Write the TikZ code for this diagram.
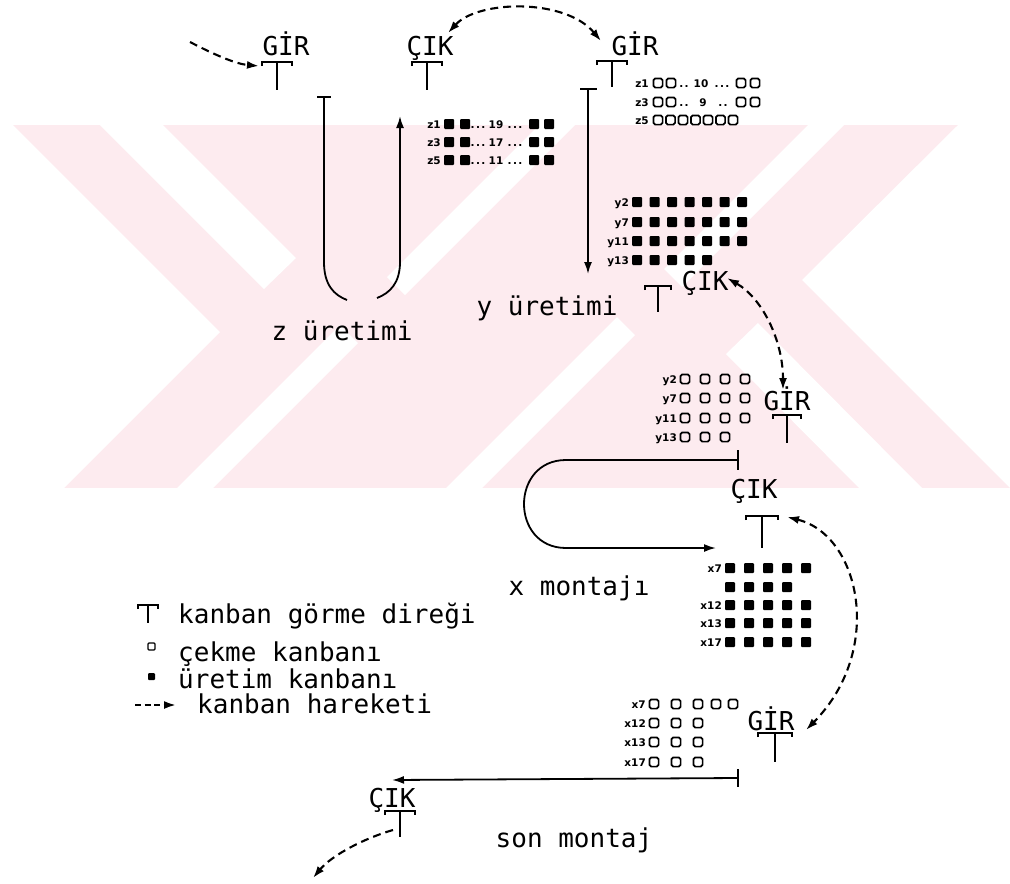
\documentclass[tikz,border=0pt]{standalone}
\usepackage{fontspec}
\usetikzlibrary{arrows.meta}
\newfontfamily\plotfont{DejaVu Sans Mono}
\newfontfamily\tagfamily{DejaVu Sans}
\definecolor{wmpink}{RGB}{253,235,239}

% kanban post: x, bar y, half width, stem length
\newcommand\kpost[4]{\draw[postline] (#1-#3,#2+4) -- (#1-#3,#2) -- (#1+#3,#2) -- (#1+#3,#2+4) (#1,#2) -- (#1,#2+#4);}
% production kanban (filled) and pull kanban (outline) at a centre
\newcommand\fsq[2]{\fill[kfill] (#1-5,#2-5) rectangle (#1+5,#2+5);}
\newcommand\osq[2]{\draw[kpull] (#1-4.6,#2-4.6) rectangle (#1+4.6,#2+4.6);}
\newcommand\ddd{.\hspace{1.4pt}.\hspace{1.4pt}.}
\newcommand\dd{.\hspace{1.4pt}.}

\begin{document}
\begin{tikzpicture}[x=1pt,y=-1pt,
  lbl/.style={font=\plotfont\fontsize{26}{26}\selectfont, inner sep=0pt, anchor=base},
  lblw/.style={lbl, anchor=base west},
  tag/.style={font=\tagfamily\bfseries\fontsize{10.5}{10.5}\selectfont, inner sep=0pt, anchor=base east},
  num/.style={font=\tagfamily\bfseries\fontsize{10.5}{10.5}\selectfont, inner sep=0pt, anchor=base},
  flow/.style={line width=1.8pt},
  postline/.style={line width=1.9pt},
  kfill/.style={fill=black, rounded corners=1pt},
  kpull/.style={draw=black, line width=1.7pt, rounded corners=1.8pt},
  move/.style={line width=2.1pt, dash pattern=on 8pt off 5pt},
  tip/.style={-{Latex[length=12pt,width=8pt]}},
  tips/.style={{Latex[length=12pt,width=8pt]}-{Latex[length=12pt,width=8pt]}},
]
\useasboundingbox (0,0) rectangle (1010,884);

% faint background emblem
\begin{scope}
  \clip (0,125) rectangle (1010,488);
  \fill[wmpink] (0,125) rectangle (1010,488);
  \fill[white] (0,125) -- (13,125) -- (220,332) -- (64,488) -- (0,488) -- cycle;
  \fill[white] (100,125) -- (163,125) -- (296,258) -- (264,289) -- cycle;
  \fill[white] (958,125) -- (1010,125) -- (1010,488) -- (802,280) -- cycle;
  \fill[white] (922,488) -- (859,488) -- (726,354) -- (758,323) -- cycle;
  \fill[white] (177,488) -- (213,488) -- (358,343) -- (340,325) -- cycle;
  \fill[white] (446,488) -- (482,488) -- (635,335) -- (617,317) -- cycle;
  \fill[white] (845,124) -- (809,124) -- (664,269) -- (682,287) -- cycle;
  \fill[white] (576,124) -- (540,124) -- (387,277) -- (405,295) -- cycle;
\end{scope}

% ---- labels
\node[lbl] (gir1) at (286,55) {GİR};
\node[lbl] (cik1) at (430,55) {ÇIK};
\node[lbl] (gir2) at (635,55) {GİR};
\node[lbl] (cik2) at (705,290) {ÇIK};
\node[lbl] (gir3) at (787,410) {GİR};
\node[lbl] (cik3) at (754,498) {ÇIK};
\node[lbl] (gir4) at (771,730) {GİR};
\node[lbl] (cik4) at (392,807) {ÇIK};
\node[lbl] (zur) at (342,340) {z üretimi};
\node[lbl] (yur) at (547,315) {y üretimi};
\node[lbl] (xmo) at (579,595) {x montajı};
\node[lbl] (son) at (574,847) {son montaj};

% ---- kanban posts
\kpost{277}{62}{15}{28}
\kpost{427}{62}{15}{28}
\kpost{612}{61}{15}{26}
\kpost{658}{286}{13}{26}
\kpost{787}{415}{14}{28}
\kpost{762}{516}{16}{32}
\kpost{775}{733}{17}{29}
\kpost{400}{811}{15}{26}

% ---- production flows
\coordinate (zl1) at (324,97);
\coordinate (zl2) at (347,300);
\coordinate (zr1) at (377,298);
\coordinate (zr2) at (400,116);
\draw[flow] (317,97) -- (331,97);
\draw[flow] (zl1) -- (324,262) .. controls (324,285) and (334,295) .. (zl2);
\draw[flow,tip] (zr1) .. controls (390,293) and (400,283) .. (400,262) -- (zr2);

\coordinate (y1) at (588,89);
\coordinate (y2) at (588,274);
\draw[flow] (580,89) -- (597,89);
\draw[flow,tip] (y1) -- (y2);

\coordinate (x1) at (738,460);
\coordinate (x2) at (716,548);
\draw[flow] (738,450) -- (738,470);
\draw[flow,tip] (x1) -- (566,460) .. controls (510,460) and (510,548) .. (566,548) -- (x2);

\coordinate (s1) at (738,778);
\coordinate (s2) at (392,780);
\draw[flow] (738,769) -- (738,787);
\draw[flow,tip] (s1) -- (s2);

% ---- kanban movements
\coordinate (in0) at (190,42);
\coordinate (in1) at (259,66);
\draw[move,tip] (in0) .. controls (215,55) and (236,64) .. (in1);
\coordinate (a1) at (448,33);
\coordinate (a2) at (601,41);
\draw[move,tips] (a1) .. controls (478,0) and (565,-2) .. (a2);
\coordinate (b1) at (727,278);
\coordinate (b2) at (783,390);
\draw[move,tips] (b1) .. controls (762,298) and (783,340) .. (b2);
\coordinate (c1) at (787,517);
\coordinate (c2) at (806,730);
\draw[move,tips] (c1) .. controls (860,535) and (885,650) .. (c2);
\coordinate (d1) at (393,830);
\coordinate (d2) at (313,878);
\draw[move,tip] (d1) .. controls (365,838) and (332,855) .. (d2);

% ---- z production kanbans
\foreach \lab/\n/\y in {z1/19/124, z3/17/142, z5/11/160}{
  \node[tag] (zp\lab) at (441,\y+4) {\lab};
  \fsq{449}{\y}\fsq{465}{\y}
  \node[num] (zpa\lab) at (478,\y+4) {\ddd};
  \node[num] (zpn\lab) at (496,\y+4) {\n};
  \node[num] (zpb\lab) at (515,\y+4) {\ddd};
  \fsq{534}{\y}\fsq{549}{\y}
}

% ---- z pull kanbans
\node[tag] (zq1) at (649,87) {z1};
\osq{658}{83}\osq{671}{83}
\node[num] (zq1a) at (684,87) {\dd};
\node[num] (zq1n) at (701,87) {10};
\node[num] (zq1b) at (722,87) {\ddd};
\osq{741}{83}\osq{755}{83}
\node[tag] (zq3) at (649,106) {z3};
\osq{658}{102}\osq{671}{102}
\node[num] (zq3a) at (684,106) {\dd};
\node[num] (zq3n) at (703,106) {9};
\node[num] (zq3b) at (723,106) {\dd};
\osq{741}{102}\osq{755}{102}
\node[tag] (zq5) at (649,124) {z5};
\foreach \i in {0,...,6}{\osq{658+12.5*\i}{120}}

% ---- y production kanbans
\foreach \lab/\k/\y in {y2/6/202, y7/6/222, y11/6/241, y13/4/260}{
  \node[tag] (yp\lab) at (629,\y+4) {\lab};
  \foreach \i in {0,...,\k}{\fsq{637+17.5*\i}{\y}}
}

% ---- y pull kanbans
\foreach \lab/\k/\y in {y2/3/379, y7/3/398, y11/3/418, y13/2/437}{
  \node[tag] (yq\lab) at (677,\y+4) {\lab};
  \foreach \i in {0,...,\k}{\osq{685+20*\i}{\y}}
}

% ---- x production kanbans
\foreach \lab/\k/\y in {x7/4/568, /3/587, x12/4/605, x13/4/623, x17/4/642}{
  \node[tag] (xp\y) at (722,\y+4) {\lab};
  \foreach \i in {0,...,\k}{\fsq{730+19*\i}{\y}}
}

% ---- x pull kanbans
\node[tag] (xq7) at (646,708) {x7};
\foreach \xx in {654,676,698,716,733}{\osq{\xx}{704}}
\foreach \lab/\y in {x12/723, x13/742, x17/762}{
  \node[tag] (xq\lab) at (646,\y+4) {\lab};
  \foreach \xx in {654,676,698}{\osq{\xx}{\y}}
}

% ---- legend
\kpost{148}{605}{10}{18}
\node[lblw] (lg1) at (178,623) {kanban görme direği};
\draw[kpull, line width=1.3pt, rounded corners=1pt] (148,643) rectangle (155,650);
\node[lblw] (lg2) at (178,661) {çekme kanbanı};
\fill[kfill] (148,673) rectangle (155,680);
\node[lblw] (lg3) at (178,688) {üretim kanbanı};
\coordinate (lg0) at (135,705);
\coordinate (lgt) at (176,705);
\draw[move,tip,dash pattern=on 6pt off 3.5pt] (lg0) -- (lgt);
\node[lblw] (lg4) at (197,713) {kanban hareketi};
\end{tikzpicture}
\end{document}
